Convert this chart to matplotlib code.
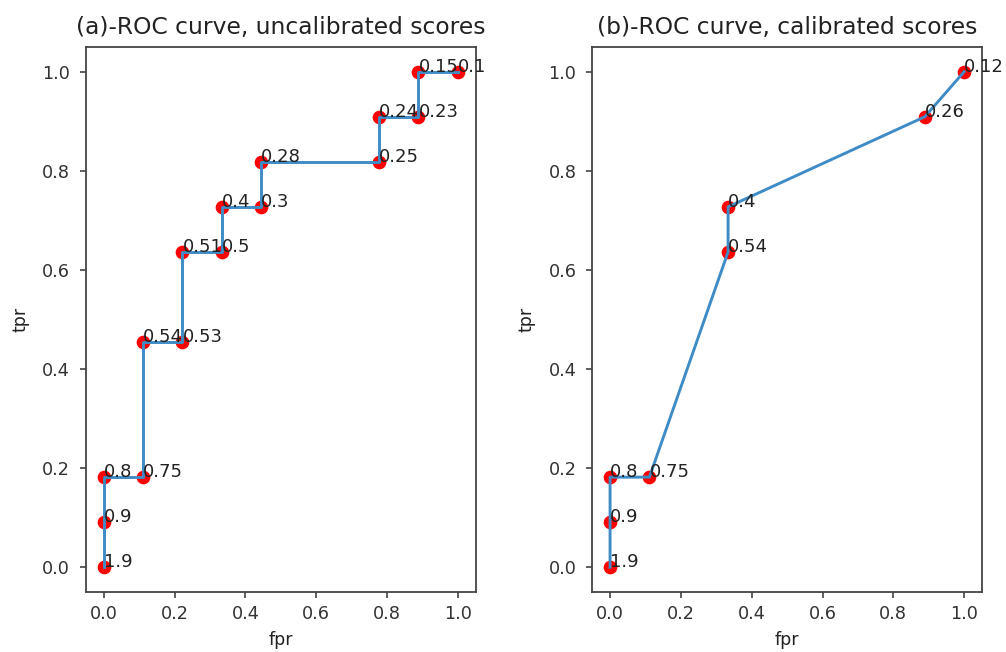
import matplotlib
matplotlib.use("Agg")
import matplotlib.pyplot as plt

# uncalibrated scores
fpr_a = [0, 0, 0, 1/9, 1/9, 2/9, 2/9, 3/9, 3/9, 4/9, 4/9, 7/9, 7/9, 8/9, 8/9, 1.0]
tpr_a = [0, 1/11, 2/11, 2/11, 5/11, 5/11, 7/11, 7/11, 8/11, 8/11, 9/11, 9/11, 10/11, 10/11, 1.0, 1.0]
thr_a = [1.9, 0.9, 0.8, 0.75, 0.54, 0.53, 0.51, 0.5, 0.4, 0.3, 0.28, 0.25, 0.24, 0.23, 0.15, 0.1]

# calibrated scores
fpr_b = [0, 0, 0, 1/9, 3/9, 3/9, 8/9, 1.0]
tpr_b = [0, 1/11, 2/11, 2/11, 7/11, 8/11, 10/11, 1.0]
thr_b = [1.9, 0.9, 0.8, 0.75, 0.54, 0.4, 0.26, 0.12]

fig, axes = plt.subplots(1, 2, figsize=(10.06, 6.52), dpi=100)
fig.subplots_adjust(left=0.0855, right=0.976, bottom=0.092, top=0.928, wspace=0.3)

panels = [(fpr_a, tpr_a, thr_a, '(a)-ROC curve, uncalibrated scores'),
          (fpr_b, tpr_b, thr_b, '(b)-ROC curve, calibrated scores')]

for ax, (fpr, tpr, thr, title) in zip(axes, panels):
    ax.plot(fpr, tpr, lw=2.1, color='#3f8bc6')
    ax.scatter(fpr, tpr, color='red', s=78, zorder=1)
    for x, y, t in zip(fpr, tpr, thr):
        ax.annotate(str(t), (x, y), fontsize=13, color='#222222', annotation_clip=False)
    ax.set_title(title, fontsize=16.8, color='#222222', pad=9)
    ax.set_xlabel('fpr', fontsize=12.5, color='#222222', labelpad=6)
    ax.set_ylabel('tpr', fontsize=12.5, color='#222222', labelpad=9)
    ax.tick_params(labelsize=12.7, length=4.5, width=1.1, colors='#333333')
    ax.tick_params(axis='y', pad=7)
    ax.tick_params(axis='x', pad=4.5)
    for sp in ax.spines.values():
        sp.set_linewidth(1.3)
        sp.set_color('#444444')

fig.savefig('out.png')
